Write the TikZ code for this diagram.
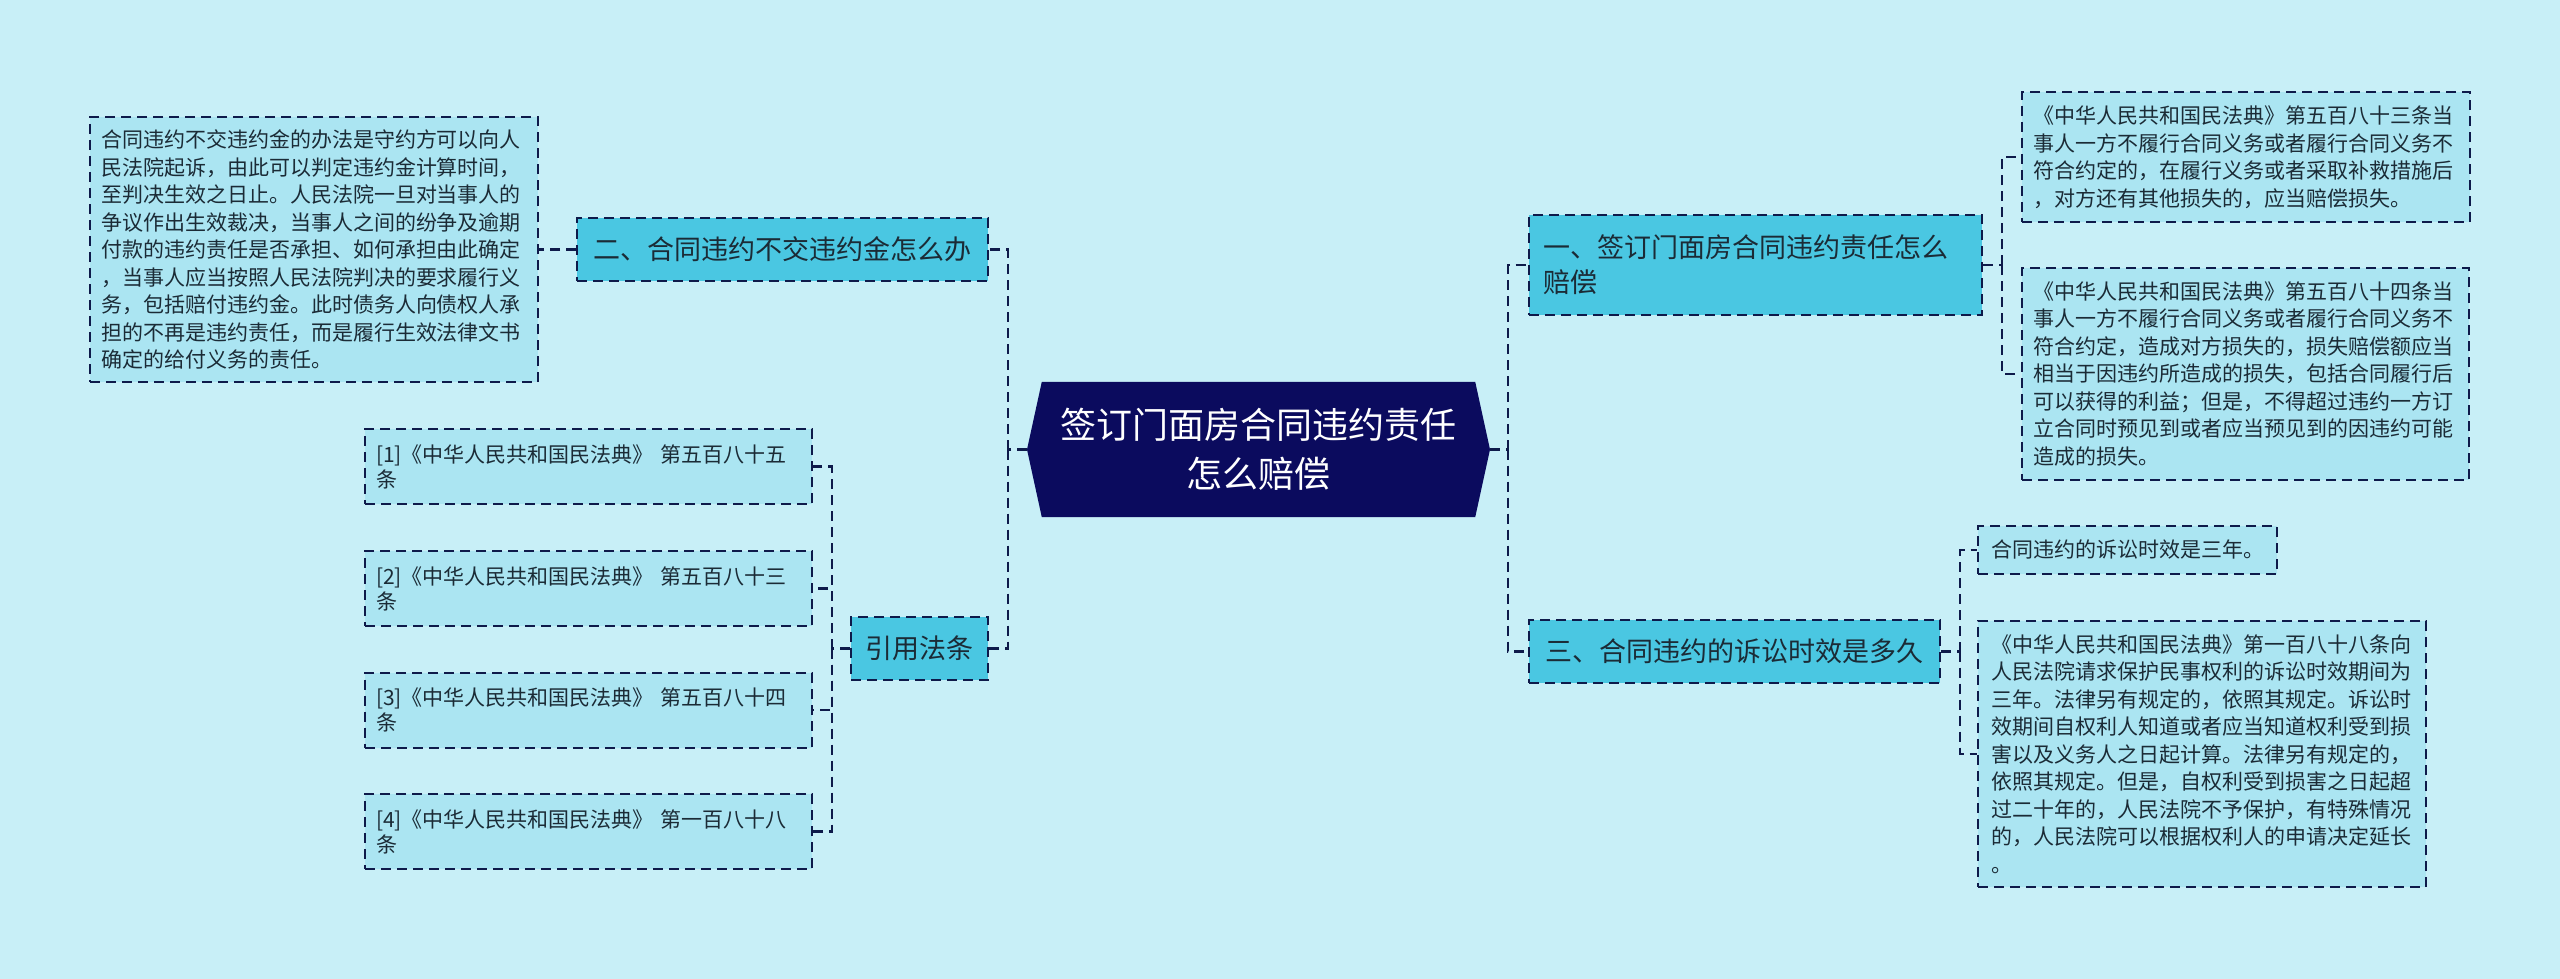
\documentclass[tikz,border=0pt]{standalone}
\usepackage{fontspec}
\setmainfont{Noto Sans CJK SC}
\usetikzlibrary{backgrounds}
\definecolor{bgcol}{HTML}{C8EFF7}
\definecolor{leafcol}{HTML}{ABE5F2}
\definecolor{branchcol}{HTML}{4AC7E2}
\definecolor{navycol}{HTML}{0B0B5E}
\definecolor{bordercol}{HTML}{0E1A4A}
\definecolor{txtcol}{HTML}{1B2B36}
\newcommand\leaffont{\fontsize{21}{27.5}\selectfont}
\newcommand\reffont{\fontsize{21}{25}\selectfont}
\newcommand\branchfont{\fontsize{27}{35}\selectfont}
\newcommand\centerfont{\fontsize{36}{49}\selectfont}
\tikzset{
  box/.style={draw=bordercol, line width=2pt, dash pattern=on 10pt off 6pt,
    inner xsep=11pt, inner ysep=0pt, align=left, text=txtcol},
  leaf/.style={box, fill=leafcol, font=\leaffont},
  refbox/.style={box, fill=leafcol, font=\reffont, minimum width=447pt, minimum height=75pt, text width=425pt},
  branch/.style={box, fill=branchcol, font=\branchfont},
  conn/.style={draw=bordercol, line width=2.5pt, dash pattern=on 10pt off 6pt},
  centerbox/.style={inner sep=0pt, minimum width=433pt, minimum height=135pt,
    align=center, text=white, font=\centerfont},
}
\begin{document}
\begin{tikzpicture}[x=1pt,y=-1pt]
\useasboundingbox (0,0) rectangle (2560,979);

% centre
\node[centerbox] (c) at (1258.5,449.5) {签订门面房合同违约责任\\怎么赔偿};
\coordinate (cw) at (1027,449.5);
\coordinate (ce) at (1490,449.5);
\begin{scope}[on background layer]
  \fill[bgcol] (0,0) rectangle (2560,979);
  \fill[navycol] (c.north west) -- (c.north east) -- (ce) -- (c.south east) -- (c.south west) -- (cw) -- cycle;
\end{scope}

% left branch: 二
\node[branch, align=center, minimum width=411pt, minimum height=63pt] (b2) at (782.5,249.5) {二、合同违约不交违约金怎么办};
\node[leaf, minimum width=448pt, minimum height=265pt, text width=426pt] (t2) at (314,249.5) {合同违约不交违约金的办法是守约方可以向人\\民法院起诉，由此可以判定违约金计算时间，\\至判决生效之日止。人民法院一旦对当事人的\\争议作出生效裁决，当事人之间的纷争及逾期\\付款的违约责任是否承担、如何承担由此确定\\，当事人应当按照人民法院判决的要求履行义\\务，包括赔付违约金。此时债务人向债权人承\\担的不再是违约责任，而是履行生效法律文书\\确定的给付义务的责任。};

% left branch: 引用法条
\node[branch, align=center, minimum width=137pt, minimum height=63pt] (b4) at (919.5,648.5) {引用法条};
\node[refbox] (r1) at (588.5,466.5) {[1]《中华人民共和国民法典》 第五百八十五\\条};
\node[refbox] (r2) at (588.5,588.5) {[2]《中华人民共和国民法典》 第五百八十三\\条};
\node[refbox] (r3) at (588.5,710) {[3]《中华人民共和国民法典》 第五百八十四\\条};
\node[refbox] (r4) at (588.5,831.5) {[4]《中华人民共和国民法典》 第一百八十八\\条};

% right branch: 一
\node[branch, inner xsep=14pt, minimum width=453pt, minimum height=100pt, text width=425pt] (b1) at (1755.5,265) {一、签订门面房合同违约责任怎么\\赔偿};
\node[leaf, minimum width=448pt, minimum height=130pt, text width=426pt] (t1a) at (2246,157) {《中华人民共和国民法典》第五百八十三条当\\事人一方不履行合同义务或者履行合同义务不\\符合约定的，在履行义务或者采取补救措施后\\，对方还有其他损失的，应当赔偿损失。};
\node[leaf, minimum width=447pt, minimum height=212pt, text width=425pt] (t1b) at (2245.5,374) {《中华人民共和国民法典》第五百八十四条当\\事人一方不履行合同义务或者履行合同义务不\\符合约定，造成对方损失的，损失赔偿额应当\\相当于因违约所造成的损失，包括合同履行后\\可以获得的利益；但是，不得超过违约一方订\\立合同时预见到或者应当预见到的因违约可能\\造成的损失。};

% right branch: 三
\node[branch, align=center, minimum width=411pt, minimum height=63pt] (b3) at (1734.5,651.5) {三、合同违约的诉讼时效是多久};
\node[leaf, inner xsep=13pt, minimum width=299pt, minimum height=48pt, text width=273pt] (t3a) at (2127.5,550) {合同违约的诉讼时效是三年。};
\node[leaf, inner xsep=13pt, minimum width=448pt, minimum height=266pt, text width=422pt] (t3b) at (2202,754) {《中华人民共和国民法典》第一百八十八条向\\人民法院请求保护民事权利的诉讼时效期间为\\三年。法律另有规定的，依照其规定。诉讼时\\效期间自权利人知道或者应当知道权利受到损\\害以及义务人之日起计算。法律另有规定的，\\依照其规定。但是，自权利受到损害之日起超\\过二十年的，人民法院不予保护，有特殊情况\\的，人民法院可以根据权利人的申请决定延长\\。};

% junctions
\coordinate (jl) at (1008,449.5);
\coordinate (jr) at (832,648.5);
\coordinate (jR) at (1508,449.5);
\coordinate (j1) at (2002,265);
\coordinate (j3) at (1960,651.5);

% connectors
\draw[conn] (cw) -- (jl);
\draw[conn] (jl) |- (b2.east);
\draw[conn] (jl) |- (b4.east);
\draw[conn] (b2.west) -- (t2.east);
\draw[conn] (b4.west) -- (jr);
\draw[conn] (jr) |- (r1.east);
\draw[conn] (jr) |- (r2.east);
\draw[conn] (jr) |- (r3.east);
\draw[conn] (jr) |- (r4.east);
\draw[conn] (ce) -- (jR);
\draw[conn] (jR) |- (b1.west);
\draw[conn] (jR) |- (b3.west);
\draw[conn] (b1.east) -- (j1);
\draw[conn] (j1) |- (t1a.west);
\draw[conn] (j1) |- (t1b.west);
\draw[conn] (b3.east) -- (j3);
\draw[conn] (j3) |- (t3a.west);
\draw[conn] (j3) |- (t3b.west);
\end{tikzpicture}
\end{document}
